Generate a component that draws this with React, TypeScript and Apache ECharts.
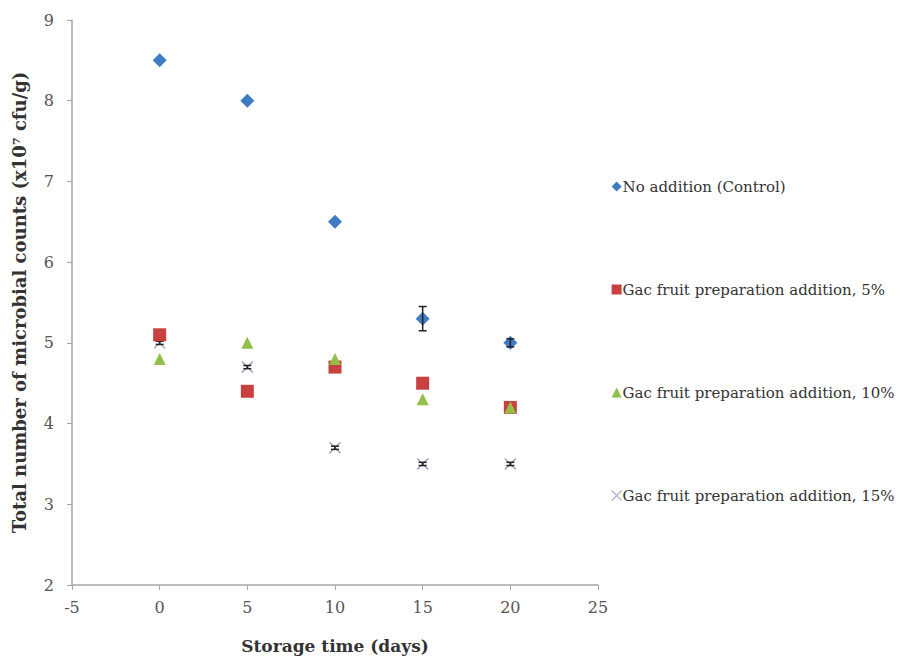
import React, { useEffect, useRef } from "react";
import * as echarts from "echarts";

const days = [0, 5, 10, 15, 20];
const seriesNames = [
  "No addition (Control)",
  "Gac fruit preparation addition, 5%",
  "Gac fruit preparation addition, 10%",
  "Gac fruit preparation addition, 15%",
];
const control = [8.5, 8.0, 6.5, 5.3, 5.0];
const controlErr = [0, 0, 0, 0.15, 0.05];
const gac5 = [5.1, 4.4, 4.7, 4.5, 4.2];
const gac5Err = [0, 0, 0, 0, 0];
const gac10 = [4.8, 5.0, 4.8, 4.3, 4.2];
const gac10Err = [0, 0, 0, 0, 0];
const gac15 = [5.0, 4.7, 3.7, 3.5, 3.5];
const gac15Err = [0.02, 0.02, 0.02, 0.02, 0.02];
const xTicks = [-5, 0, 5, 10, 15, 20, 25];
const yTicks = [2, 3, 4, 5, 6, 7, 8, 9];

const colors = ["#3f7cc4", "#c8413f", "#92bf4a", "#9599c4"];
const symbols = ["diamond", "rect", "triangle", "path://M0,0L10,10M10,0L0,10"];
const sizes = [14, 13, 12, 11];

const serif = "'DejaVu Serif', serif";

export default function App() {
  const ref = useRef<HTMLDivElement>(null);
  useEffect(() => {
    if (!ref.current) return;
    const chart = echarts.init(ref.current, undefined, { renderer: "svg" });
    const values = [control, gac5, gac10, gac15];
    const errs = [controlErr, gac5Err, gac10Err, gac15Err];

    const errorSeries = values.map((vals, si) => ({
      type: "custom",
      name: seriesNames[si] + " err",
      silent: true,
      z: si === 3 ? 3 : 10,
      data: days
        .map((d, i) => [d, vals[i] - errs[si][i], vals[i] + errs[si][i], errs[si][i]])
        .filter((r) => r[3] > 0),
      renderItem: (params: any, api: any) => {
        const x = api.value(0);
        const lo = api.coord([x, api.value(1)]);
        const hi = api.coord([x, api.value(2)]);
        const hw = 4;
        const style = { stroke: "#222", lineWidth: 1.5 };
        return {
          type: "group",
          children: [
            { type: "line", shape: { x1: lo[0], y1: lo[1], x2: hi[0], y2: hi[1] }, style },
            { type: "line", shape: { x1: lo[0] - hw, y1: lo[1], x2: lo[0] + hw, y2: lo[1] }, style },
            { type: "line", shape: { x1: hi[0] - hw, y1: hi[1], x2: hi[0] + hw, y2: hi[1] }, style },
          ],
        };
      },
    }));

    const scatterSeries = values.map((vals, si) => ({
      type: "scatter",
      name: seriesNames[si],
      symbol: symbols[si],
      symbolSize: sizes[si],
      z: si === 3 ? 2 : 4 + si,
      itemStyle:
        si === 3
          ? { color: "rgba(0,0,0,0)", borderColor: colors[si], borderWidth: 1.3, opacity: 1 }
          : { color: colors[si], opacity: 1 },
      data: days.map((d, i) => [d, vals[i]]),
    }));

    chart.setOption({
      animation: false,
      backgroundColor: "#ffffff",
      grid: { left: 72, right: 317, top: 20, bottom: 71, containLabel: false },
      xAxis: {
        type: "value",
        min: xTicks[0],
        max: xTicks[xTicks.length - 1],
        interval: 5,
        name: "Storage time (days)",
        nameLocation: "middle",
        nameGap: 52,
        nameTextStyle: { fontFamily: serif, fontWeight: "bold", fontSize: 17, color: "#333" },
        axisLine: { onZero: false, lineStyle: { color: "#a6a6a6", width: 1.5 } },
        axisTick: { show: true, inside: false, length: 5, lineStyle: { color: "#a6a6a6" } },
        axisLabel: { fontFamily: serif, fontSize: 16, color: "#555", margin: 14 },
        splitLine: { show: false },
      },
      yAxis: {
        type: "value",
        min: yTicks[0],
        max: yTicks[yTicks.length - 1],
        interval: 1,
        name: "Total number of microbial counts (x10\u2077 cfu/g)",
        nameLocation: "middle",
        nameGap: 44,
        nameTextStyle: { fontFamily: serif, fontWeight: "bold", fontSize: 18, color: "#333" },
        axisLine: { show: true, onZero: false, lineStyle: { color: "#a6a6a6", width: 1.5 } },
        axisTick: { show: true, inside: false, length: 5, lineStyle: { color: "#a6a6a6" } },
        axisLabel: { fontFamily: serif, fontSize: 16, color: "#555", margin: 18 },
        splitLine: { show: false },
      },
      legend: {
        orient: "vertical",
        left: 606,
        top: 174,
        itemGap: 88,
        itemWidth: 10,
        itemHeight: 10,
        selectedMode: false,
        data: seriesNames.map((n, i) => ({
          name: n,
          icon: symbols[i],
          itemStyle:
            i === 3
              ? { color: "rgba(0,0,0,0)", borderColor: "#b0b0c8", borderWidth: 1.2 }
              : { color: colors[i] },
        })),
        textStyle: { fontFamily: serif, fontSize: 15, color: "#333", padding: [0, 0, 0, -4] },
      },
      series: [...errorSeries, ...scatterSeries],
    });
    return () => chart.dispose();
  }, []);
  return (
    <div
      ref={ref}
      style={{ position: "absolute", left: 0, top: 0, width: 915, height: 659 }}
    />
  );
}
